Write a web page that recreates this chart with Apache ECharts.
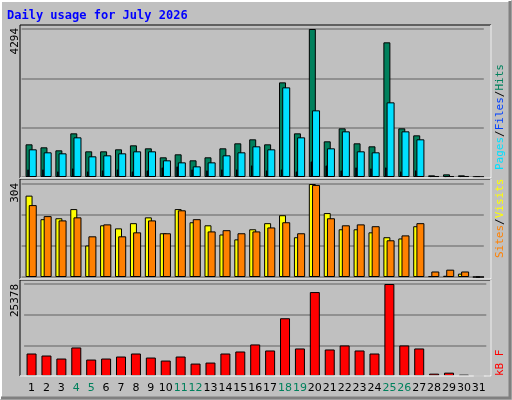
<!DOCTYPE html>
<html><head><meta charset="utf-8">
<script src="https://cdn.jsdelivr.net/npm/echarts@6/dist/echarts.min.js"></script>
<style>html,body{margin:0;padding:0;background:#c0c0c0}#c{width:512px;height:400px}</style>
</head><body><div id="c"></div>
<script>
var days = ['1','2','3','4','5','6','7','8','9','10','11','12','13','14','15','16','17','18','19','20','21','22','23','24','25','26','27','28','29','30','31'];
var weekend = ['4','5','11','12','18','19','25','26'];
var hits = [948,861,774,1267,745,745,803,919,832,571,658,484,571,832,977,1093,948,2746,1267,4294,1035,1412,977,890,3907,1412,1209,48,77,48,0];
var files = [803,716,687,1151,600,629,687,745,745,484,425,309,425,629,716,890,803,2601,1151,1934,832,1325,745,716,2166,1325,1093,20,20,20,0];
var pages = [222,222,164,251,164,193,222,164,193,280,309,222,193,222,222,338,193,222,164,454,338,193,280,251,280,164,193,0,0,0,0];
var sites = [266,189,192,222,103,169,159,176,195,143,222,179,169,139,123,156,176,202,130,304,209,156,156,146,130,126,166,3,4,11,0];
var visits = [235,199,185,195,133,172,133,146,185,143,218,189,149,153,143,149,162,179,143,301,192,169,172,166,120,136,176,18,24,18,0];
var kbytes = [6206,5650,4816,7873,4538,4816,5372,6206,5094,4261,5372,3427,3705,6206,6761,8706,7039,15931,7595,23155,7317,8428,7039,6206,25378,8428,7595,648,926,370,0];
var maxHits = 4294, maxSites = 304, maxKB = 25378;

var chart = echarts.init(document.getElementById('c'));
var W = 462.2, grids = [], xAxes = [], yAxes = [], series = [];
function add(left, top, h, max, data, color, bw, showSplit, showLabels) {
  var i = grids.length;
  grids.push({left: left, top: top, width: W, height: h, containLabel: false});
  xAxes.push({type: 'category', gridIndex: i, data: days, axisLine: {show: false}, axisTick: {show: false},
    axisLabel: showLabels ? {show: true, margin: 7, fontFamily: 'DejaVu Sans', fontSize: 11, interval: 0,
      formatter: function (v) { return weekend.indexOf(v) >= 0 ? '{g|' + v + '}' : '{k|' + v + '}'; },
      rich: {g: {color: '#00805c', fontFamily: 'DejaVu Sans', fontSize: 11}, k: {color: '#000', fontFamily: 'DejaVu Sans', fontSize: 11}}} : {show: false}});
  yAxes.push({type: 'value', gridIndex: i, min: 0, max: max, interval: max / 3, axisLabel: {show: false},
    axisLine: {show: false}, axisTick: {show: false},
    splitLine: {show: showSplit, lineStyle: {color: '#808080', width: 1.5}}});
  series.push({type: 'bar', xAxisIndex: i, yAxisIndex: i, data: data, barWidth: bw, silent: true,
    itemStyle: {color: color, borderColor: '#000', borderWidth: 1}});
}
add(21.6, 29, 148, maxHits, hits, '#00805c', 7, true, false);
add(25.3, 29, 148, maxHits, files, '#00e0ff', 8, false, false);
add(20.6, 29, 148, maxHits, pages, '#0040ff', 1.5, false, false);
add(21.6, 184, 93, maxSites, sites, '#ffff00', 7, true, false);
add(25.3, 184, 93, maxSites, visits, '#ff8000', 8, false, false);
add(24.1, 284, 92, maxKB, kbytes, '#ff0000', 10, true, true);

function panel(y1, y2) {
  return [
    {type: 'rect', shape: {x: 20, y: y1, width: 471, height: y2 - y1}, style: {fill: '#c0c0c0', stroke: '#000', lineWidth: 1}, z: -10},
    {type: 'line', shape: {x1: 20, y1: y2, x2: 491, y2: y2}, style: {stroke: '#fff', lineWidth: 1.5}, z: 10},
    {type: 'line', shape: {x1: 491, y1: y1, x2: 491, y2: y2}, style: {stroke: '#fff', lineWidth: 1.5}, z: 10}
  ];
}
var fam = 'DejaVu Sans Mono';
function vtext(x, y, align, rich, txt) {
  return {type: 'text', x: x, y: y, rotation: Math.PI / 2, z: 20,
    style: {text: txt, rich: rich, fontFamily: fam, fontSize: 11, align: align, verticalAlign: 'middle', fill: '#000'}};
}
var g = [
  {type: 'rect', shape: {x: 0, y: 0, width: 512, height: 400}, style: {fill: '#c0c0c0'}, z: -20},
  {type: 'polyline', shape: {points: [[1, 399], [1, 1], [511, 1]]}, style: {stroke: '#fff', lineWidth: 2, fill: null}, z: -15},
  {type: 'polyline', shape: {points: [[1, 398], [510, 398], [510, 1]]}, style: {stroke: '#808080', lineWidth: 3, fill: null}, z: -15},
  {type: 'text', x: 7, y: 16, style: {text: 'Daily usage for July 2026', fontFamily: fam, fontWeight: 'bold', fontSize: 12, fill: '#0000ff', verticalAlign: 'middle'}},
  vtext(15, 28, 'right', {}, String(maxHits)),
  vtext(15, 183, 'right', {}, String(maxSites)),
  vtext(15, 284, 'right', {}, String(maxKB)),
  vtext(500, 170, 'left', {c: {fill: '#00e0ff', fontFamily: fam, fontSize: 11}, b: {fill: '#0040ff', fontFamily: fam, fontSize: 11}, gr: {fill: '#00805c', fontFamily: fam, fontSize: 11}, k: {fill: '#000', fontFamily: fam, fontSize: 11}},
    '{c|Pages}{k|/}{b|Files}{k|/}{gr|Hits}'),
  vtext(500, 258, 'left', {o: {fill: '#ff8000', fontFamily: fam, fontSize: 11}, y: {fill: '#ffff00', fontFamily: fam, fontSize: 11}, k: {fill: '#000', fontFamily: fam, fontSize: 11}},
    '{o|Sites}{k|/}{y|Visits}'),
  vtext(500, 376, 'left', {r: {fill: '#ff0000', fontFamily: fam, fontSize: 11}}, '{r|kB F}')
].concat(panel(25, 178), panel(179, 279), panel(280, 376));

chart.setOption({animation: false, backgroundColor: '#c0c0c0', grid: grids, xAxis: xAxes, yAxis: yAxes, series: series, graphic: g});
</script></body></html>
